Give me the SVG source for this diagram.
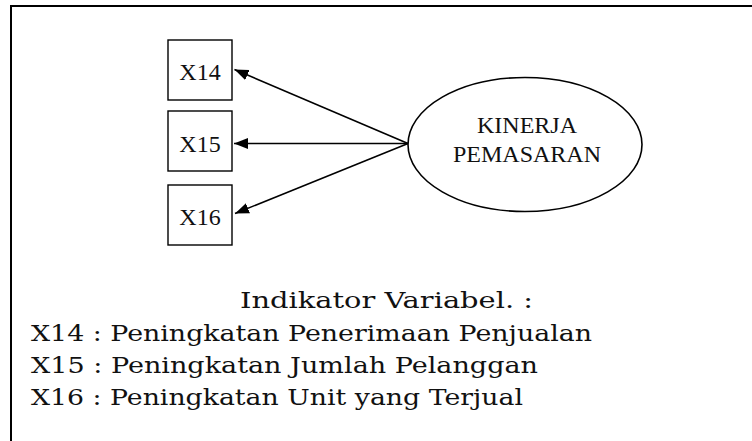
<svg xmlns="http://www.w3.org/2000/svg" width="752" height="441" viewBox="0 0 752 441">
  <style>
    .box { fill: #ffffff; stroke: #000000; stroke-width: 1.4; }
    .oval { fill: #ffffff; stroke: #000000; stroke-width: 1.6; }
    .frame { fill: none; stroke: #000000; stroke-width: 2; }
    .edge { fill: none; stroke: #000000; stroke-width: 1.6; marker-end: url(#arrow); }
    .lbl { font-family: "Liberation Serif", "Times New Roman", serif; font-size: 24px; fill: #111111; text-anchor: middle; }
    .legend { font-family: "DejaVu Serif", "Liberation Serif", serif; font-size: 22px; fill: #111111; }
  </style>
  <defs>
    <marker id="arrow" viewBox="0 0 14 11" refX="14" refY="5.5" markerWidth="14" markerHeight="11" markerUnits="userSpaceOnUse" orient="auto">
      <path d="M0,0 L14,5.5 L0,11 Z" fill="#000000"/>
    </marker>
  </defs>

  <!-- outer frame (top and left edges) -->
  <path class="frame" d="M11,441 L11,6 L752,6"/>

  <g id="x14">
    <rect class="box" x="168" y="40" width="64" height="60"/>
    <text class="lbl" x="200" y="80">X14</text>
  </g>
  <g id="x15">
    <rect class="box" x="168" y="111" width="64" height="60"/>
    <text class="lbl" x="200" y="152">X15</text>
  </g>
  <g id="x16">
    <rect class="box" x="168" y="185" width="64" height="60"/>
    <text class="lbl" x="200" y="225">X16</text>
  </g>

  <g id="kinerja">
    <ellipse class="oval" cx="525" cy="144.5" rx="117" ry="67"/>
    <text class="lbl" x="527" y="133">KINERJA</text>
    <text class="lbl" x="527" y="162">PEMASARAN</text>
  </g>

  <g id="connectors">
    <line class="edge" x1="408" y1="143.5" x2="234.5" y2="69.5"/>
    <line class="edge" x1="408" y1="143.5" x2="234" y2="143.5"/>
    <line class="edge" x1="408" y1="143.5" x2="235" y2="213.5"/>
  </g>

  <g id="legend">
    <text class="legend" x="240" y="308" font-size="25" textLength="293" lengthAdjust="spacingAndGlyphs">Indikator Variabel. :</text>
    <text class="legend" x="31" y="341" textLength="561" lengthAdjust="spacingAndGlyphs">X14 : Peningkatan Penerimaan Penjualan</text>
    <text class="legend" x="31" y="373" textLength="507" lengthAdjust="spacingAndGlyphs">X15 : Peningkatan Jumlah Pelanggan</text>
    <text class="legend" x="31" y="405" textLength="492" lengthAdjust="spacingAndGlyphs">X16 : Peningkatan Unit yang Terjual</text>
  </g>
</svg>
